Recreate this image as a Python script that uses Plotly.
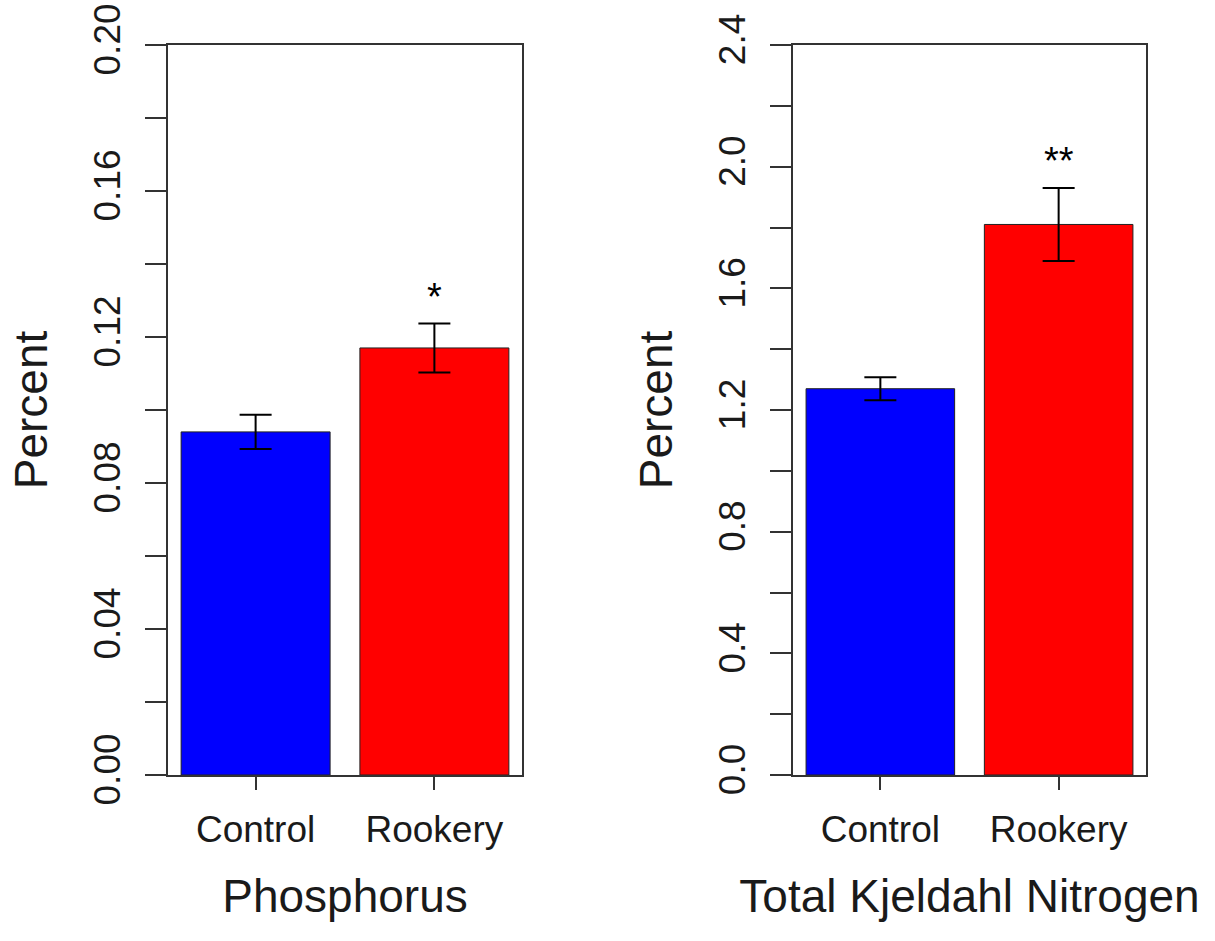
import plotly.graph_objects as go

categories = ["Control", "Rookery"]
bar_positions = [0.7, 1.9]
bar_colors = ["#0000FF", "#FF0000"]

phosphorus_mean = [0.094, 0.117]
phosphorus_se = [0.0047, 0.0067]
phosphorus_sig = ["", "*"]

tkn_mean = [1.27, 1.81]
tkn_se = [0.038, 0.12]
tkn_sig = ["", "**"]

p_tickvals = [0.00, 0.02, 0.04, 0.06, 0.08, 0.10, 0.12, 0.14, 0.16, 0.18, 0.20]
p_ticktext = ["0.00", "", "0.04", "", "0.08", "", "0.12", "", "0.16", "", "0.20"]
n_tickvals = [0.0, 0.2, 0.4, 0.6, 0.8, 1.0, 1.2, 1.4, 1.6, 1.8, 2.0, 2.2, 2.4]
n_ticktext = ["0.0", "", "0.4", "", "0.8", "", "1.2", "", "1.6", "", "2.0", "", "2.4"]

FONT = "Liberation Sans, Arial, Helvetica, sans-serif"
AX = "#333333"
TXT = "#1a1a1a"

W = 1215
H = 941


def px_x(x):
    return x / W


def px_y(y):
    return 1 - y / H


fig = go.Figure()

fig.add_trace(go.Bar(
    x=bar_positions, y=phosphorus_mean, width=1.0,
    marker=dict(color=bar_colors, line=dict(color="#222222", width=1)),
    error_y=dict(type="data", array=phosphorus_se, color="black", thickness=2, width=16),
    xaxis="x", yaxis="y", showlegend=False,
))
fig.add_trace(go.Bar(
    x=bar_positions, y=tkn_mean, width=1.0,
    marker=dict(color=bar_colors, line=dict(color="#222222", width=1)),
    error_y=dict(type="data", array=tkn_se, color="black", thickness=2, width=16),
    xaxis="x2", yaxis="y2", showlegend=False,
))

for xp, m, s, lab in zip(bar_positions, phosphorus_mean, phosphorus_se, phosphorus_sig):
    if lab:
        fig.add_annotation(x=xp, y=m + s, xref="x", yref="y", text=lab, showarrow=False,
                           yanchor="bottom", yshift=4, font=dict(family=FONT, size=38, color="black"))
for xp, m, s, lab in zip(bar_positions, tkn_mean, tkn_se, tkn_sig):
    if lab:
        fig.add_annotation(x=xp, y=m + s, xref="x2", yref="y2", text=lab, showarrow=False,
                           yanchor="bottom", yshift=4, font=dict(family=FONT, size=38, color="black"))

xcommon = dict(
    range=[0.112, 2.488], tickmode="array", tickvals=bar_positions, ticktext=categories,
    ticks="outside", ticklen=13, tickwidth=2, tickcolor=AX,
    showline=True, linewidth=2, linecolor=AX, mirror=True,
    showgrid=False, zeroline=False,
    tickfont=dict(family=FONT, size=37, color=TXT),
    ticklabelstandoff=8,
    title=dict(font=dict(family=FONT, size=46, color=TXT), standoff=30),
    automargin=False, fixedrange=True,
)
ycommon = dict(
    tickmode="array", ticks="outside", ticklen=21, tickwidth=2, tickcolor=AX,
    showline=True, linewidth=2, linecolor=AX, mirror=True,
    showgrid=False, zeroline=False, tickangle=-90,
    tickfont=dict(family=FONT, size=37, color=TXT),
    ticklabelstandoff=10, ticklabeloverflow="allow",
    title=dict(text="Percent", font=dict(family=FONT, size=46, color=TXT), standoff=25),
    automargin=False, fixedrange=True,
)

fig.update_layout(
    width=W, height=H,
    margin=dict(l=0, r=0, t=0, b=0),
    paper_bgcolor="white", plot_bgcolor="white",
    bargap=0,
    xaxis=dict(domain=[px_x(168), px_x(522)], anchor="y", title_text="Phosphorus", **xcommon),
    yaxis=dict(domain=[px_y(775), px_y(45)], anchor="x", range=[0, 0.2],
               tickvals=p_tickvals, ticktext=p_ticktext, **ycommon),
    xaxis2=dict(domain=[px_x(793), px_x(1146)], anchor="y2", title_text="Total Kjeldahl Nitrogen", **xcommon),
    yaxis2=dict(domain=[px_y(775), px_y(45)], anchor="x2", range=[0, 2.4],
                tickvals=n_tickvals, ticktext=n_ticktext, **ycommon),
)

fig.write_html(
    "out.html",
    config={"displayModeBar": False, "staticPlot": True},
    post_script="document.body.style.margin='0';document.body.style.overflow='hidden';",
)
